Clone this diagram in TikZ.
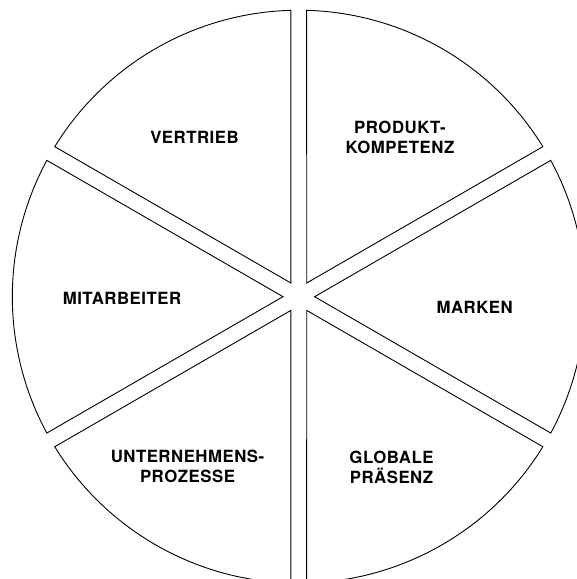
\documentclass[tikz,border=0pt]{standalone}
\usepackage{fontspec}
\usetikzlibrary{calc}
\newfontfamily\lblfont{TeX Gyre Heros}[LetterSpace=3]
\tikzset{
  lab/.style={font=\lblfont\bfseries\fontsize{16.8}{20}\selectfont, align=center, inner sep=0pt, text=black},
  seg/.style={draw=black, line width=0.9pt, line join=miter}
}
\begin{document}
\begin{tikzpicture}[x=1pt,y=1pt]
\useasboundingbox (0,0) rectangle (577,579);
\clip (0,0) rectangle (577,579);
\def\R{286.5}
\def\g{7.9}
\pgfmathsetmacro{\dl}{asin(\g/\R)}
\coordinate (C) at (298.8,282.3);
\foreach \t in {60,0,-60,-120,180,120}{
  \pgfmathsetmacro{\sa}{\t-30+\dl}
  \pgfmathsetmacro{\ea}{\t+30-\dl}
  \draw[seg] ($(C)+(\t:2*\g)$) -- ($(C)+(\sa:\R)$) arc[start angle=\sa, end angle=\ea, radius=\R] -- cycle;
}
\node[lab] (vertrieb) at (194.5,441.5) {VERTRIEB};
\node[lab] (produkt) at (400,441.3) {PRODUKT-\\KOMPETENZ};
\node[lab] (mitarbeiter) at (122,281) {MITARBEITER};
\node[lab] (marken) at (474.7,271.5) {MARKEN};
\node[lab] (unternehmen) at (187.5,112.2) {UNTERNEHMENS-\\PROZESSE};
\node[lab] (globale) at (391.5,112) {GLOBALE\\PRÄSENZ};
\end{tikzpicture}
\end{document}
